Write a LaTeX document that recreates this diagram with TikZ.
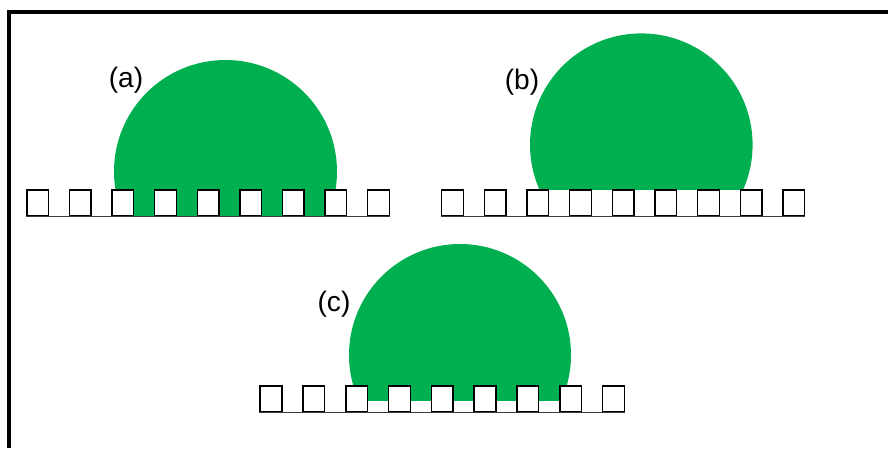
\documentclass[tikz,border=0pt]{standalone}
\usepackage{fontspec}
\setmainfont{Liberation Sans}
\usetikzlibrary{positioning}
\definecolor{ink}{HTML}{000000}
\definecolor{drop}{HTML}{00B050}
\definecolor{floorgray}{HTML}{3A3A3A}
\tikzset{
  pillar/.style={draw=ink, line width=1pt, fill=white, inner sep=0pt, minimum width=0.54cm, minimum height=0.65cm},
  tag/.style={font=\fontsize{20}{24}\selectfont, text=ink, inner sep=0pt},
  frame/.style={draw=ink, line width=3pt},
  floor/.style={draw=floorgray, line width=0.9pt}
}

\begin{document}
\begin{tikzpicture}[x=0.025cm, y=0.025cm]
\useasboundingbox (0,0) rectangle (888,448);
\fill[white] (0,0) rectangle (888,448);
\draw[frame] (9,0) -- (9,436) -- (888,436);
% (a) droplet soaks down between the pillars
\begin{scope}
  \clip (0,232) rectangle (888,448);
  \fill[drop] (225.5,276.5) circle[radius=111.5];
\end{scope}
\foreach \i in {1,...,9}
  \node[pillar] (a\i) at ({37.75+(\i-1)*42.6},245) {};
\draw[floor] (a1.south west) -- (a9.south east);
\node[tag] (la) at (126,368) {(a)};
% (b) droplet rests on the pillar tops
\begin{scope}
  \clip (0,258) rectangle (888,448);
  \fill[drop] (641.3,303.3) circle[radius=111.3];
\end{scope}
\foreach \i in {1,...,9}
  \node[pillar] (b\i) at ({452.5+(\i-1)*42.66},245) {};
\draw[floor] (b1.south west) -- (b9.south east);
\node[tag] (lb) at (522,366) {(b)};
% (c) droplet partly fills the gaps
\begin{scope}
  \clip (0,48) rectangle (888,448);
  \fill[drop] (460,93) circle[radius=111];
\end{scope}
\foreach \i in {1,...,9}
  \node[pillar] (c\i) at ({271+(\i-1)*42.8},49) {};
\draw[floor] (c1.south west) -- (c9.south east);
\node[tag] (lc) at (334,144) {(c)};
\end{tikzpicture}
\end{document}
